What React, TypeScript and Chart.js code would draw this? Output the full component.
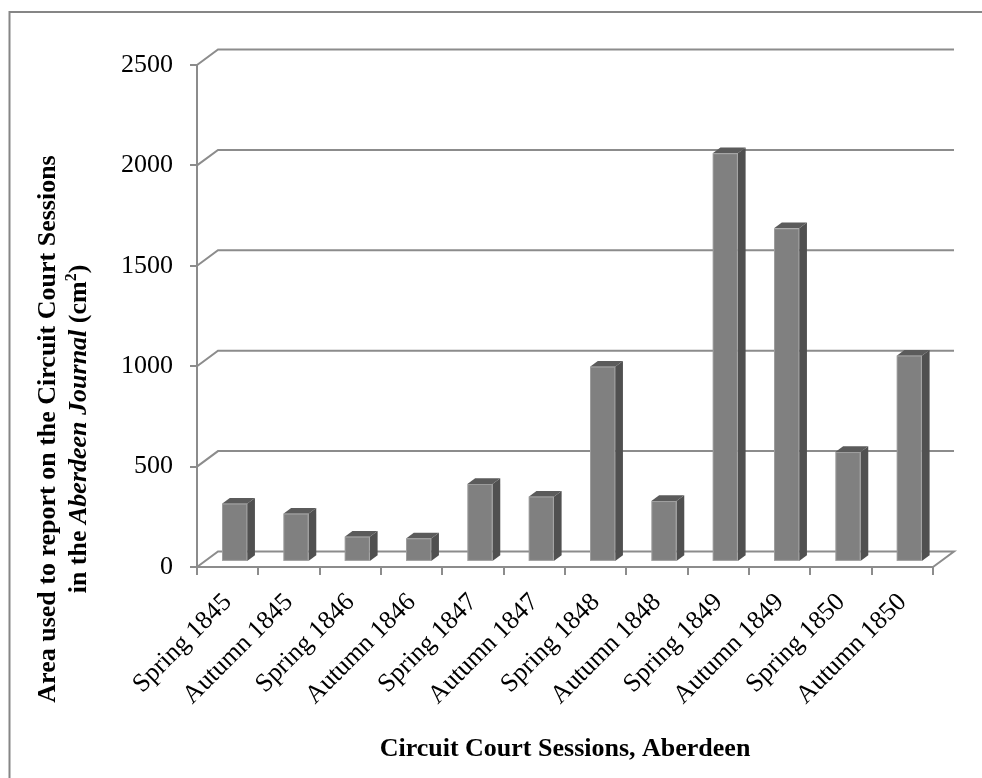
import { useEffect, useRef } from 'react';
import { Chart, registerables } from 'chart.js';

Chart.register(...registerables);

// Court sessions and the newspaper area (cm²) given to each report
const sessions = [
  'Spring 1845', 'Autumn 1845', 'Spring 1846', 'Autumn 1846',
  'Spring 1847', 'Autumn 1847', 'Spring 1848', 'Autumn 1848',
  'Spring 1849', 'Autumn 1849', 'Spring 1850', 'Autumn 1850',
];
const areaCm2 = [290, 240, 125, 117, 388, 325, 972, 303, 2035, 1661, 547, 1027];
const yTicks = [0, 500, 1000, 1500, 2000, 2500];

const xTitle = 'Circuit Court Sessions, Aberdeen';
const yTitleLine1 = 'Area used to report on the Circuit Court Sessions';
const yTitleLine2 = [
  { text: 'in the ', style: 'bold', size: 26, rise: 0 },
  { text: 'Aberdeen Journal', style: 'italic bold', size: 26, rise: 0 },
  { text: ' (cm', style: 'bold', size: 26, rise: 0 },
  { text: '2', style: 'bold', size: 16, rise: 10 },
  { text: ')', style: 'bold', size: 26, rise: 0 },
];

const FONT = '"Liberation Serif", "Times New Roman", serif';
const GRID = '#8c8c8c';
const FRONT = '#808080';
const SIDE = '#505050';
const TOP = '#5b5b5b';

// oblique offset of the back wall relative to the front plane
const DX = 21;
const DY = 15.5;
const BAR_FRONT = 0.33; // depth of a bar's front face
const BAR_DEPTH = 0.37; // depth of a bar's box

const wallsPlugin = {
  id: 'walls',
  beforeDatasetsDraw(chart: any) {
    const { ctx, chartArea: a, scales } = chart;
    const y = scales.y;
    ctx.save();
    ctx.strokeStyle = GRID;
    ctx.lineWidth = 2;
    for (const v of yTicks) {
      const py = y.getPixelForValue(v);
      ctx.beginPath();
      ctx.moveTo(a.left, py);
      ctx.lineTo(a.left + DX, py - DY);
      ctx.lineTo(a.right + DX, py - DY);
      if (v === 0) ctx.lineTo(a.right, py);
      ctx.stroke();
    }
    ctx.restore();
  },
};

const boxesPlugin = {
  id: 'boxes',
  afterDatasetsDraw(chart: any) {
    const { ctx } = chart;
    const meta = chart.getDatasetMeta(0);
    const fx = DX * BAR_FRONT;
    const fy = DY * BAR_FRONT;
    const sx = DX * BAR_DEPTH;
    const sy = DY * BAR_DEPTH;
    ctx.save();
    meta.data.forEach((el: any) => {
      const p = el.getProps(['x', 'y', 'base', 'width'], true);
      const l = p.x - p.width / 2 + fx;
      const r = p.x + p.width / 2 + fx;
      const t = p.y - fy;
      const b = p.base - fy;
      // side face
      ctx.fillStyle = SIDE;
      ctx.beginPath();
      ctx.moveTo(r, t);
      ctx.lineTo(r + sx, t - sy);
      ctx.lineTo(r + sx, b - sy);
      ctx.lineTo(r, b);
      ctx.closePath();
      ctx.fill();
      // top face
      ctx.fillStyle = TOP;
      ctx.beginPath();
      ctx.moveTo(l, t);
      ctx.lineTo(l + sx, t - sy);
      ctx.lineTo(r + sx, t - sy);
      ctx.lineTo(r, t);
      ctx.closePath();
      ctx.fill();
      // front face
      ctx.fillStyle = FRONT;
      ctx.fillRect(l, t, r - l, b - t);
      ctx.strokeStyle = 'rgba(255,255,255,0.22)';
      ctx.lineWidth = 1;
      ctx.strokeRect(l + 0.5, t + 0.5, r - l - 1, b - t - 1);
    });
    ctx.restore();
  },
};

const textPlugin = {
  id: 'texts',
  afterDraw(chart: any) {
    const { ctx, chartArea: a, scales } = chart;
    const x = scales.x;
    ctx.save();

    // outer frame
    ctx.strokeStyle = '#868686';
    ctx.lineWidth = 2;
    ctx.beginPath();
    ctx.moveTo(9.5, 800);
    ctx.lineTo(9.5, 12);
    ctx.lineTo(1000, 12);
    ctx.stroke();

    // category labels, rotated
    ctx.fillStyle = '#000';
    ctx.font = `26px ${FONT}`;
    ctx.textAlign = 'right';
    ctx.textBaseline = 'alphabetic';
    sessions.forEach((s, i) => {
      const px = x.getPixelForTick(i);
      ctx.save();
      ctx.translate(px + 5, a.bottom + 36);
      ctx.rotate(-Math.PI / 4);
      ctx.fillText(s, 0, 0);
      ctx.restore();
    });

    // x axis title
    ctx.font = `bold 26px ${FONT}`;
    ctx.textAlign = 'center';
    ctx.fillText(xTitle, (a.left + a.right) / 2, 756);

    // y axis title, two lines
    const cy = 429;
    ctx.save();
    ctx.translate(55, cy);
    ctx.rotate(-Math.PI / 2);
    ctx.textAlign = 'center';
    ctx.fillText(yTitleLine1, 0, 0);
    ctx.restore();

    ctx.save();
    ctx.translate(86, cy);
    ctx.rotate(-Math.PI / 2);
    ctx.textAlign = 'left';
    let total = 0;
    for (const seg of yTitleLine2) {
      ctx.font = `${seg.style} ${seg.size}px ${FONT}`;
      total += ctx.measureText(seg.text).width;
    }
    let cx = -total / 2;
    for (const seg of yTitleLine2) {
      ctx.font = `${seg.style} ${seg.size}px ${FONT}`;
      ctx.fillText(seg.text, cx, -seg.rise);
      cx += ctx.measureText(seg.text).width;
    }
    ctx.restore();

    ctx.restore();
  },
};

export default function App() {
  const canvasRef = useRef<HTMLCanvasElement | null>(null);

  useEffect(() => {
    document.body.style.margin = '0';
    const canvas = canvasRef.current;
    if (!canvas) return;
    const chart = new Chart(canvas, {
      type: 'bar',
      data: {
        labels: sessions,
        datasets: [
          {
            data: areaCm2,
            backgroundColor: 'rgba(0,0,0,0)',
            borderWidth: 0,
            categoryPercentage: 1,
            barPercentage: 0.41,
          },
        ],
      },
      options: {
        animation: false,
        responsive: false,
        devicePixelRatio: 1,
        layout: { padding: { left: 0, top: 65, right: 49, bottom: 0 } },
        plugins: {
          legend: { display: false },
          tooltip: { enabled: false },
        },
        scales: {
          x: {
            grid: {
              offset: true,
              drawOnChartArea: false,
              drawTicks: true,
              tickLength: 8,
              color: GRID,
              lineWidth: 2,
            },
            border: { display: true, color: GRID, width: 2 },
            ticks: { display: false },
            afterFit: (scale: any) => {
              scale.height = 211;
            },
          },
          y: {
            min: 0,
            max: 2500,
            grid: {
              drawOnChartArea: false,
              drawTicks: true,
              tickLength: 7,
              color: GRID,
              lineWidth: 2,
            },
            border: { display: true, color: GRID, width: 2 },
            ticks: {
              stepSize: 500,
              padding: 17,
              color: '#000',
              font: { family: FONT, size: 26 },
              callback: (v: any) => String(v),
            },
            afterFit: (scale: any) => {
              scale.width = 197;
            },
          },
        },
      },
      plugins: [wallsPlugin, boxesPlugin, textPlugin],
    });
    return () => chart.destroy();
  }, []);

  return (
    <canvas
      ref={canvasRef}
      width={982}
      height={778}
      style={{ display: 'block', width: 982, height: 778 }}
    />
  );
}
